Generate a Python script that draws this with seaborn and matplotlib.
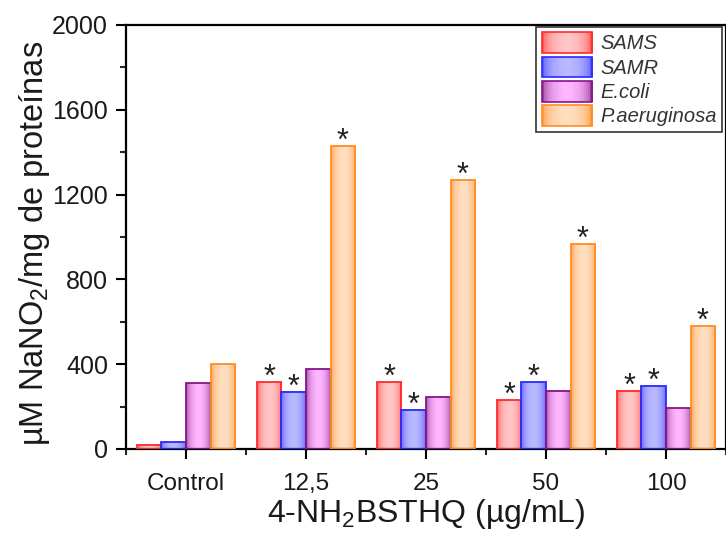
import numpy as np
import pandas as pd
import seaborn as sns
import matplotlib.pyplot as plt
from matplotlib.colors import to_rgb
from matplotlib.patches import Rectangle
from matplotlib.legend_handler import HandlerPatch
from matplotlib.ticker import MultipleLocator, FixedLocator

# data
concentrations = ['Control', '12,5', '25', '50', '100']
strains = ['SAMS', 'SAMR', 'E.coli', 'P.aeruginosa']
sams = [20, 316, 316, 231, 274]
samr = [33, 269, 184, 316, 297]
ecoli = [311, 377, 245, 274, 193]
paeru = [400, 1429, 1270, 967, 580]
# significance marks (True = asterisk above bar)
sig_sams = [False, True, True, True, True]
sig_samr = [False, True, True, True, True]
sig_ecoli = [False, False, False, False, False]
sig_paeru = [False, True, True, True, True]

# (dark edge of gradient, light centre, outline)
styles = {
    'SAMS': ('#FF5656', '#FFC6C6', '#FF2A2A'),
    'SAMR': ('#5A5AFF', '#B9B9FF', '#2A2AFF'),
    'E.coli': ('#9A3F9A', '#FFB6FF', '#85158A'),
    'P.aeruginosa': ('#FF9C45', '#FFDEC0', '#FF8E22'),
}

values = [sams, samr, ecoli, paeru]
sigs = [sig_sams, sig_samr, sig_ecoli, sig_paeru]
df = pd.DataFrame({
    'conc': np.tile(concentrations, len(strains)),
    'strain': np.repeat(strains, len(concentrations)),
    'value': np.concatenate(values),
})

sns.set_theme(style='ticks')
plt.rcParams['font.family'] = ['Liberation Sans', 'DejaVu Sans']
plt.rcParams['mathtext.default'] = 'regular'

fig = plt.figure(figsize=(7.26, 5.33), dpi=100)
ax = fig.add_axes([0.1736, 0.1576, 0.8264, 0.7955])

sns.barplot(data=df, x='conc', y='value', hue='strain', order=concentrations,
            hue_order=strains, width=0.82, dodge=True, legend=False, ax=ax,
            errorbar=None)


def gradient(dark, light, n=64):
    t = np.linspace(0, 1, n)
    p = np.sin(np.pi * t) ** 0.55
    d, l = np.array(to_rgb(dark)), np.array(to_rgb(light))
    return d[None, :] + (l - d)[None, :] * p[:, None]


bars = [p for p in ax.patches if isinstance(p, Rectangle)]
for i, name in enumerate(strains):
    dark, light, edge = styles[name]
    grad = gradient(dark, light)[None, :, :]
    for j in range(len(concentrations)):
        bar = bars[i * len(concentrations) + j]
        x, w, h = bar.get_x(), bar.get_width(), bar.get_height()
        ax.imshow(grad, extent=[x, x + w, 0, h], aspect='auto', zorder=2,
                  interpolation='bilinear')
        bar.set_facecolor('none')
        bar.set_edgecolor(edge)
        bar.set_linewidth(1.3)
        bar.set_zorder(3)
        if sigs[i][j]:
            ax.annotate('*', (x + w / 2, h), xytext=(0, -3),
                        textcoords='offset points', ha='center', va='baseline',
                        fontsize=22, color='#222222', zorder=4)

ax.set_xlim(-0.5, 4.5)
ax.set_ylim(0, 2000)
ax.yaxis.set_major_locator(MultipleLocator(400))
ax.yaxis.set_minor_locator(MultipleLocator(200))
ax.xaxis.set_minor_locator(FixedLocator(np.arange(-0.5, 4.6, 1)))

for s in ax.spines.values():
    s.set_linewidth(1.6)
    s.set_color('black')
ax.tick_params(which='major', direction='out', length=7, width=1.5,
               colors='black', labelcolor='#1a1a1a')
ax.tick_params(which='minor', direction='out', length=4, width=1.5)
ax.tick_params(axis='y', labelsize=18, pad=6)
ax.tick_params(axis='x', labelsize=17.5, pad=10)

ax.set_xlabel('4-NH$_2$BSTHQ (µg/mL)', fontsize=23, color='#1a1a1a', labelpad=2)
ax.set_ylabel('µM NaNO$_2$/mg de proteínas', fontsize=23.5, color='#1a1a1a',
              labelpad=1)
ax.yaxis.set_label_coords(-0.124, 0.485)


class GradientHandler(HandlerPatch):
    def create_artists(self, legend, orig_handle, xdescent, ydescent,
                       width, height, fontsize, trans):
        name = orig_handle.get_label()
        dark, light, edge = styles[name]
        cols = gradient(dark, light, 24)
        arts = []
        n = len(cols)
        for k, c in enumerate(cols):
            r = Rectangle((-xdescent + width * k / n, -ydescent), width / n + 0.3,
                          height, facecolor=c, edgecolor='none', transform=trans)
            arts.append(r)
        arts.append(Rectangle((-xdescent, -ydescent), width, height,
                              facecolor='none', edgecolor=edge, lw=1.2,
                              transform=trans))
        return arts


handles = [Rectangle((0, 0), 1, 1, label=n) for n in strains]
leg = ax.legend(handles=handles, labels=strains, loc='upper right',
                bbox_to_anchor=(0.994, 0.996),
                prop={'style': 'italic', 'size': 14.5}, frameon=True,
                fancybox=False, edgecolor='black', handlelength=2.5,
                handleheight=1.2, labelspacing=0.16, borderpad=0.28,
                handletextpad=0.4, borderaxespad=0,
                handler_map={Rectangle: GradientHandler()})
leg.get_frame().set_linewidth(1.2)
for t in leg.get_texts():
    t.set_color('#333333')

fig.savefig('out.png', dpi=100)
